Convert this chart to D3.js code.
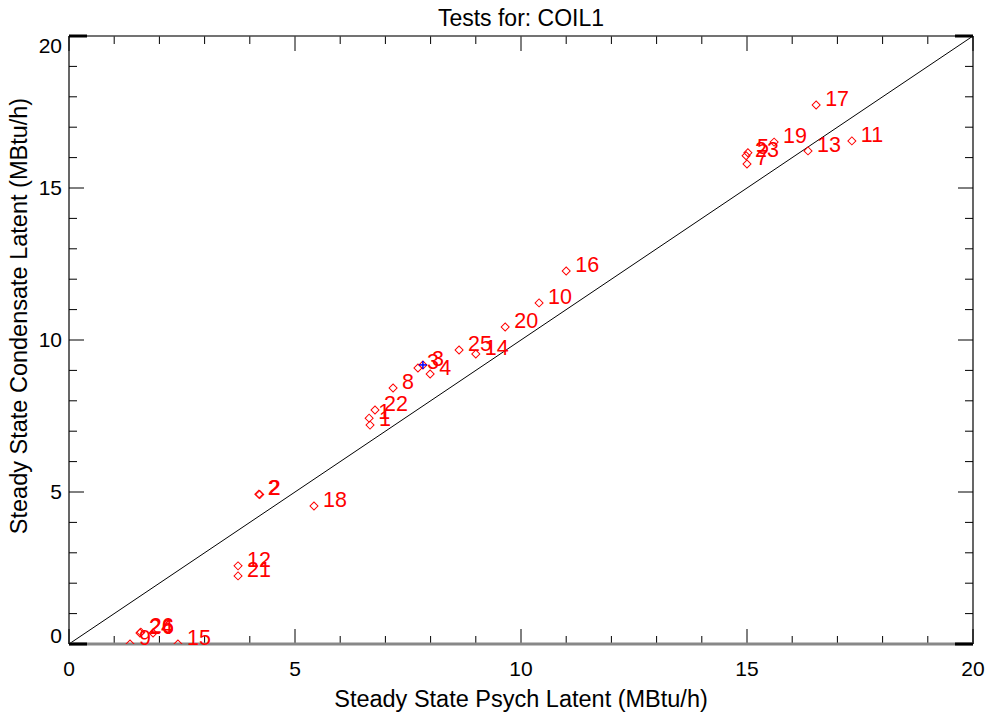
<!DOCTYPE html>
<html><head><meta charset="utf-8">
<script src="https://cdn.jsdelivr.net/npm/d3@7"></script>
<style>
html,body{margin:0;padding:0;background:#fff;}
svg{display:block;font-family:"Liberation Sans",Arial,Helvetica,sans-serif;}
</style></head><body>
<svg id="chart" width="991" height="717"></svg>
<script>
// Test numbers and their steady-state latent loads (MBtu/h)
const testLabels       = ["1","1","2","2","3","3","4","5","6","7","8","9","10","11","12","13","14","15","16","17","18","19","20","21","22","23","24","25","26"];
const psychLatent      = [6.66,6.64,4.20,4.22,7.72,7.83,7.99,15.02,1.86,15.00,7.17,1.35,10.40,17.32,3.74,16.35,9.00,2.41,11.00,16.53,5.42,15.60,9.65,3.74,6.77,14.98,1.57,8.63,1.59];
const condensateLatent = [7.20,7.43,4.93,4.92,9.08,9.18,8.88,16.16,0.36,15.79,8.42,0.00,11.22,16.55,2.57,16.22,9.54,0.00,12.27,17.73,4.54,16.51,10.43,2.24,7.70,16.06,0.36,9.67,0.39];

// Highlighted test point (blue cross)
const markedPsych      = [7.83];
const markedCondensate = [9.18];

const majorTicks = [0,5,10,15,20];
const minorTicks = d3.range(0,21,1).filter(v => v % 5 !== 0);
const xTickLabels = ["0","5","10","15","20"];
const yTickLabels = ["0","5","10","15","20"];

const L = 69, R = 973, T = 36, B = 644;

const svg = d3.select("#chart");
const x = d3.scaleLinear().domain([0,20]).range([L,R]);
const y = d3.scaleLinear().domain([0,20]).range([B,T]);

svg.append("defs").append("clipPath").attr("id","plotClip")
  .append("rect").attr("x",L).attr("y",T).attr("width",R-L).attr("height",B-T);

// one-to-one reference line
svg.append("line")
  .attr("x1",x(0)).attr("y1",y(0)).attr("x2",x(20)).attr("y2",y(20))
  .attr("stroke","#000").attr("stroke-width",1);

// ticks on all four sides, pointing inward
const MAJ = 15, MIN = 8;
const tickG = svg.append("g").attr("stroke","#000").attr("stroke-width",1);
function drawTicks(vals, len){
  vals.forEach(v => {
    tickG.append("line").attr("x1",x(v)).attr("x2",x(v)).attr("y1",B).attr("y2",B-len);
    tickG.append("line").attr("x1",x(v)).attr("x2",x(v)).attr("y1",T).attr("y2",T+len);
    tickG.append("line").attr("y1",y(v)).attr("y2",y(v)).attr("x1",L).attr("x2",L+len);
    tickG.append("line").attr("y1",y(v)).attr("y2",y(v)).attr("x1",R).attr("x2",R-len);
  });
}
drawTicks(majorTicks, MAJ);
drawTicks(minorTicks, MIN);

// frame
svg.append("line").attr("x1",L).attr("x2",L).attr("y1",T).attr("y2",B).attr("stroke","#000").attr("stroke-width",1.2);
svg.append("line").attr("x1",R).attr("x2",R).attr("y1",T).attr("y2",B).attr("stroke","#000").attr("stroke-width",1.2);
svg.append("line").attr("x1",L).attr("x2",R).attr("y1",T).attr("y2",T).attr("stroke","#444").attr("stroke-width",1.4);
svg.append("line").attr("x1",L).attr("x2",R).attr("y1",B).attr("y2",B).attr("stroke","#888").attr("stroke-width",3);
[T, B].forEach(yy => {
  svg.append("line").attr("x1",L).attr("x2",L+18).attr("y1",yy).attr("y2",yy).attr("stroke","#000").attr("stroke-width",3);
  svg.append("line").attr("x1",R-18).attr("x2",R).attr("y1",yy).attr("y2",yy).attr("stroke","#000").attr("stroke-width",3);
});

// tick labels
const xl = svg.append("g").attr("font-size",21).attr("fill","#000");
majorTicks.forEach((v,i) => {
  xl.append("text").attr("x",x(v)).attr("y",B+32).attr("text-anchor","middle").text(xTickLabels[i]);
});
const yl = svg.append("g").attr("font-size",21).attr("fill","#000");
majorTicks.forEach((v,i) => {
  let dy = 0;
  if (v === 20) dy = 10;
  if (v === 0) dy = -8;
  yl.append("text").attr("x",L-7).attr("y",y(v)+dy).attr("dy","0.35em")
    .attr("text-anchor","end").text(yTickLabels[i]);
});

// titles
svg.append("text").attr("x",(L+R)/2).attr("y",26).attr("text-anchor","middle")
  .attr("font-size",23).text("Tests for: COIL1");
svg.append("text").attr("x",(L+R)/2).attr("y",707).attr("text-anchor","middle")
  .attr("font-size",23.5).text("Steady State Psych Latent (MBtu/h)");
svg.append("text").attr("transform","translate(27,316) rotate(-90)")
  .attr("text-anchor","middle").attr("font-size",23.5)
  .text("Steady State Condensate Latent (MBtu/h)");

// test points: open red diamonds with number labels
const pts = testLabels.map((t,i) => ({t, px: psychLatent[i], cy: condensateLatent[i]}));
const diamond = d3.symbol().type(d3.symbolSquare).size(32);
svg.append("g").attr("clip-path","url(#plotClip)")
  .selectAll("path").data(pts).join("path")
  .attr("d", diamond)
  .attr("transform", d => `translate(${x(d.px)},${y(d.cy)}) rotate(45)`)
  .attr("fill","none").attr("stroke","#ff0000").attr("stroke-width",1);

svg.append("g").attr("font-size",21.5).attr("fill","#ff0000")
  .selectAll("text").data(pts).join("text")
  .attr("x", d => x(d.px) + 9)
  .attr("y", d => y(d.cy) + 1)
  .text(d => d.t);

// highlighted point
svg.append("g").selectAll("g")
  .data(markedPsych.map((v,i) => ({px: v, cy: markedCondensate[i]}))).join("g")
  .attr("transform", d => `translate(${x(d.px)},${y(d.cy)})`)
  .each(function(){
    const g = d3.select(this);
    g.append("line").attr("x1",-4).attr("x2",4).attr("y1",0).attr("y2",0).attr("stroke","#0000ff").attr("stroke-width",1.5);
    g.append("line").attr("x1",0).attr("x2",0).attr("y1",-4).attr("y2",4).attr("stroke","#0000ff").attr("stroke-width",1.5);
  });
</script>
</body></html>
